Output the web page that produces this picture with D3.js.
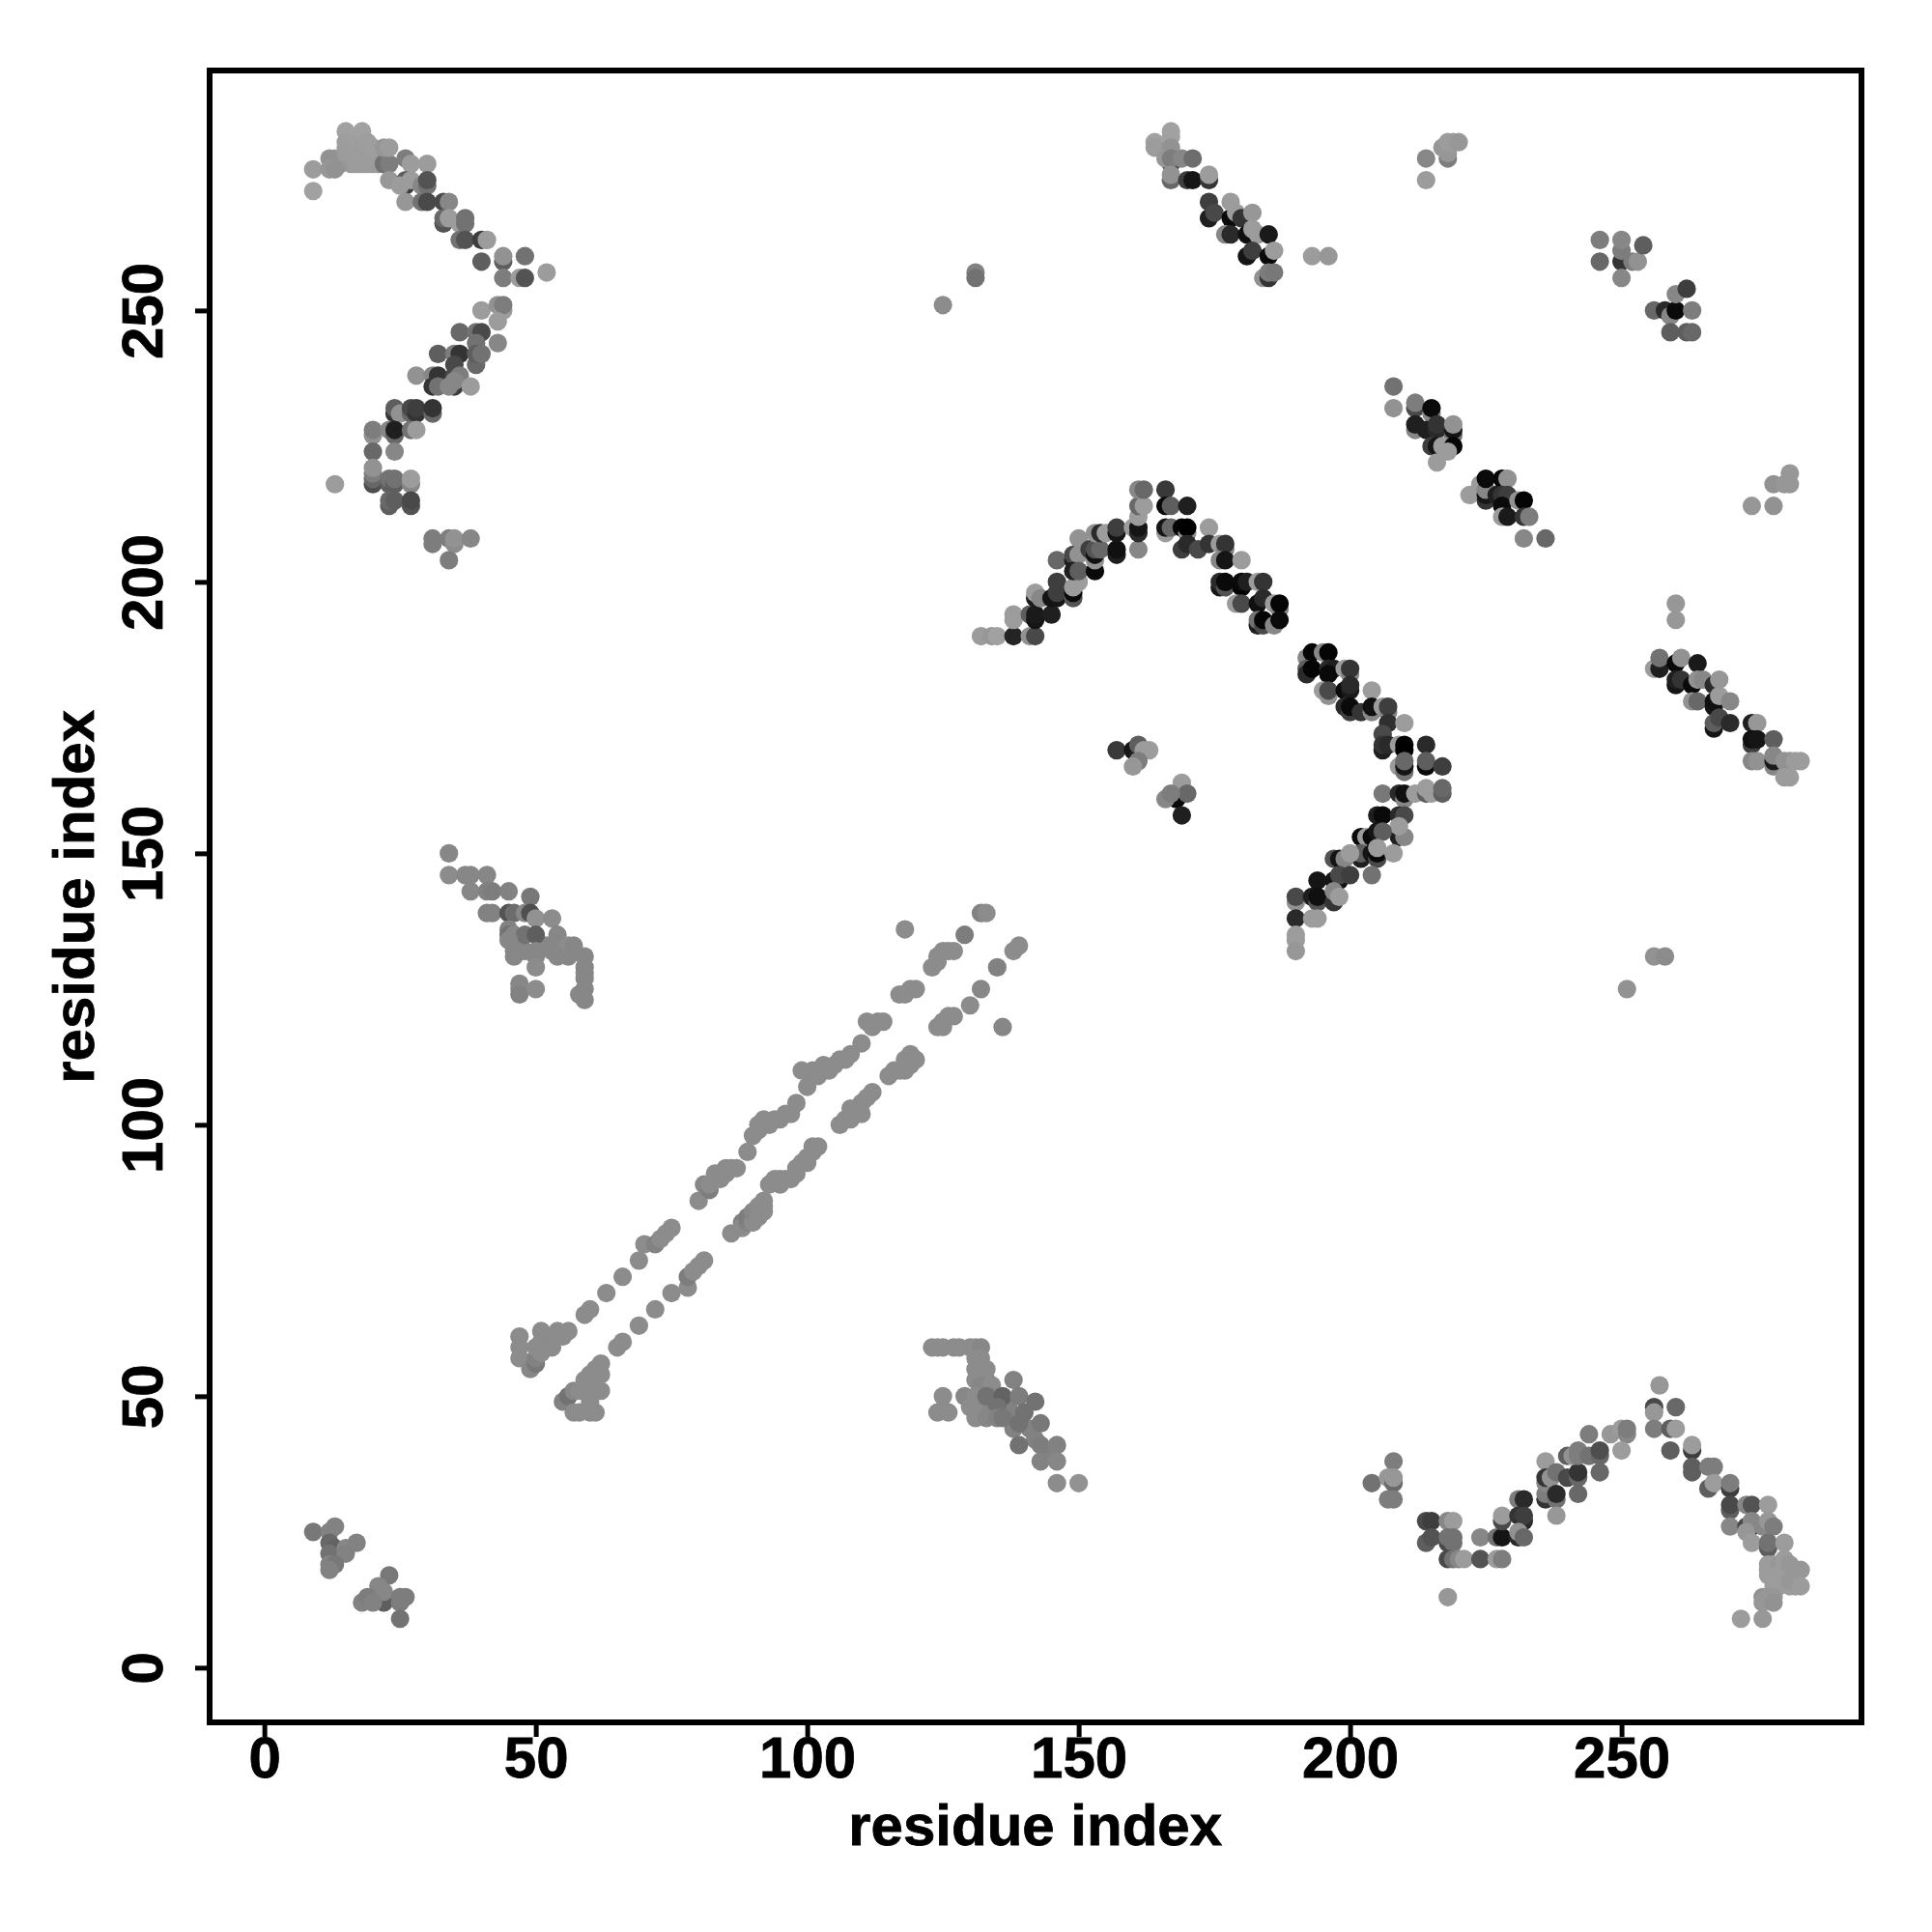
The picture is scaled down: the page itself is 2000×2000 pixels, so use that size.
<!DOCTYPE html>
<html><head><meta charset="utf-8">
<script src="https://cdn.jsdelivr.net/npm/d3@7"></script>
<style>html,body{margin:0;background:#fff}svg{display:block}</style></head>
<body><svg id="c" width="2000" height="2000"></svg>
<script>
// each contact: [residue i, residue j, grey level]
const topLeftArc=[[9,276,150],[9,272,155],[12,278,140],[12,276,145],[13,276,140],[15,283,155],[15,281,152],[15,279,150],[18,283,155],[17,277,150],[18,277,150],[19,277,150],[19,281,152],[20,280,152],[22,277,110],[23,277,120],[22,280,145],[23,280,150],[26,278,120],[27,277,150],[30,277,150],[23,274,145],[26,274,90],[26,273,60],[25,273,150],[27,274,150],[29,273,130],[30,273,110],[30,274,80],[26,270,145],[29,270,110],[30,270,70],[33,270,70],[34,270,130],[33,266,80],[33,267,100],[34,267,150],[36,266,150],[37,266,110],[37,267,110],[36,263,110],[37,263,80],[40,263,60],[41,263,150],[40,259,90],[44,259,90],[44,260,140],[48,260,110],[44,256,120],[47,256,150],[48,256,80],[52,257,150]];
const topLeftLower=[[40,250,150],[43,251,140],[44,250,150],[44,251,120],[43,248,150],[36,246,100],[39,246,110],[40,246,70],[39,244,110],[43,244,130],[32,242,90],[35,242,120],[36,242,50],[39,240,100],[39,242,90],[40,242,110],[35,240,70],[28,238,140],[31,238,130],[32,238,50],[35,238,70],[36,238,120],[31,236,50],[32,236,110],[35,236,60],[34,236,130],[35,237,130],[38,236,150],[24,231,50],[24,232,90],[25,231,140],[27,231,100],[27,232,70],[28,231,50],[28,232,60],[31,231,100],[31,232,50],[20,227,140],[20,228,120],[23,228,130],[24,227,100],[24,228,30],[27,228,110],[28,228,150],[20,224,100],[24,224,130],[20,218,75],[20,219,100],[20,220,120],[20,221,140],[23,218,90],[23,219,110],[24,218,90],[24,219,110],[27,218,130],[27,219,150],[13,218,150],[23,214,90],[23,215,100],[24,215,90],[27,214,80],[27,215,70],[31,207,120],[31,208,120],[34,208,120],[35,207,135],[35,208,140],[38,208,130],[34,204,120]];
const midLeft=[[34,150,130],[34,146,135],[37,146,130],[38,146,130],[41,146,130],[38,143,130],[41,143,125],[42,143,120],[45,143,125],[49,142,115],[41,139,125],[42,139,125],[47,133,130],[48,132,130],[52,133,130],[55,132,130],[56,131,130],[45,139,80],[46,139,105],[48,139,130],[49,139,75],[50,138,140],[53,138,135],[45,136,125],[45,135,110],[46,135,130],[48,135,110],[50,135,90],[54,135,130],[45,134,130],[46,132,130],[50,132,130],[53,132,130],[54,133,130],[56,133,135],[57,133,130],[46,131,130],[50,131,130],[54,131,130],[57,132,130],[59,131,130],[50,129,135],[47,126,130],[47,125,130],[47,124,125],[50,125,135],[59,129,130],[59,128,130],[59,127,130],[59,125,130],[58,124,130],[59,123,130]];
const strandUpper=[[47,61,135],[47,59,135],[47,57,135],[49,55,130],[50,56,115],[50,57,125],[50,59,135],[51,58,135],[51,60,135],[51,62,135],[53,59,135],[54,61,135],[54,62,135],[55,61,135],[56,62,135],[59,65,135],[60,66,135],[63,69,135],[66,72,135],[69,75,135],[70,78,135],[72,78,125],[73,79,135],[74,80,135],[75,81,135],[80,86,135],[81,89,130],[82,88,120],[82,89,135],[83,91,135],[84,90,135],[84,91,135],[85,91,135],[85,92,135],[86,92,135],[87,92,135],[89,95,135],[90,98,135],[91,99,135],[91,100,135],[92,100,135],[92,101,135],[93,100,135],[94,101,135],[95,101,135],[96,102,135],[97,102,135],[98,104,135],[100,107,135],[101,109,135],[99,110,135],[101,110,135],[102,109,135],[102,110,135],[103,111,135],[104,110,135],[105,111,135],[106,112,135],[107,112,135],[108,113,135],[110,115,135],[111,119,135],[112,118,135],[113,119,135],[114,119,135],[117,124,135],[118,124,135],[119,125,135],[120,125,135],[123,129,135],[124,130,135],[124,131,135],[125,132,135],[126,132,135],[127,132,135],[118,136,135],[129,135,120],[132,139,125],[133,139,135]];
const strandLower=[[55,49,125],[56,50,110],[57,51,130],[58,51,135],[59,51,135],[59,53,135],[60,54,135],[61,55,135],[62,56,135],[62,54,135],[62,51,135],[61,51,135],[60,49,135],[57,47,135],[58,47,135],[60,47,135],[61,47,135],[65,59,135],[66,60,135],[69,63,135],[72,66,135],[75,69,135],[78,70,135],[78,72,120],[79,73,135],[80,74,135],[81,75,135],[86,80,135],[88,82,125],[88,81,135],[89,82,125],[89,83,120],[90,82,135],[90,84,130],[91,83,135],[91,85,135],[92,84,135],[92,85,135],[92,86,135],[93,89,135],[94,90,135],[95,89,135],[95,90,135],[96,90,135],[97,90,135],[98,91,135],[98,92,135],[99,93,135],[100,93,135],[100,94,135],[101,95,135],[101,96,135],[102,96,135],[106,100,135],[107,101,135],[108,101,135],[108,103,135],[109,102,135],[110,102,135],[110,104,135],[111,105,135],[112,106,135],[115,109,135],[116,110,135],[117,110,135],[118,110,135],[118,112,135],[119,111,135],[119,113,135],[120,112,135],[124,118,135],[125,118,135],[125,119,135],[126,120,135],[127,120,135],[130,122,135],[132,125,130],[135,129,125],[136,118,130],[138,132,135],[139,133,135]];
const bottomMid=[[123,59,135],[124,59,135],[125,59,135],[127,59,135],[128,59,135],[130,59,135],[131,59,135],[132,59,130],[131,57,135],[132,57,135],[131,55,135],[132,55,135],[133,55,135],[132,54,135],[131,53,135],[133,53,135],[132,52,130],[134,52,135],[138,53,125],[125,50,135],[129,50,130],[131,50,135],[134,50,130],[130,48,135],[132,48,135],[134,48,130],[137,48,125],[137,46,125],[138,44,125],[141,44,125],[142,42,125],[145,40,125],[133,50,110],[136,50,95],[139,50,120],[142,49,110],[135,48,110],[140,47,110],[124,47,135],[126,47,135],[131,46,135],[133,46,130],[135,46,125],[136,46,115],[139,45,110],[143,45,115],[139,41,110],[143,41,120],[146,41,125],[143,38,125],[146,38,130],[146,34,135],[150,34,140]];
const topMid=[[164,281,155],[164,280,150],[167,283,155],[167,282,155],[167,280,140],[167,277,60],[166,278,145],[167,278,120],[169,278,130],[171,278,105],[167,274,100],[167,275,140],[170,274,60],[171,274,20],[174,274,50],[174,275,150],[174,270,60],[174,267,30],[175,268,70],[178,267,10],[178,270,150],[179,268,150],[180,267,50],[182,268,145],[177,264,130],[178,264,40],[181,264,15],[182,265,150],[183,264,150],[185,264,25],[181,260,20],[182,261,60],[185,260,10],[186,261,150],[184,256,140],[185,256,50],[185,257,120],[186,257,115],[193,260,150],[196,260,145],[125,251,135],[131,257,125],[131,256,110]];
const topRight=[[214,278,130],[214,274,150],[218,278,120],[218,279,145],[217,280,145],[218,281,150],[219,281,150],[220,281,145],[246,263,120],[246,259,100],[250,259,50],[250,261,120],[250,263,130],[250,256,130],[252,259,120],[253,259,140],[254,262,90],[256,250,100],[258,250,40],[259,249,130],[259,246,90],[260,250,10],[260,253,130],[262,254,60],[262,246,90],[263,250,120],[263,246,100]];
const rightUpper=[[208,236,110],[208,232,140],[212,232,70],[212,233,120],[215,231,130],[215,232,10],[212,228,130],[212,229,30],[214,228,30],[216,228,40],[216,229,50],[219,227,110],[219,228,20],[219,229,140],[215,225,60],[216,225,20],[217,225,150],[219,225,5],[218,224,150],[216,222,150],[222,216,150],[224,218,150],[225,215,50],[225,216,20],[225,217,130],[225,219,10],[228,219,5],[229,219,140],[227,216,30],[228,216,50],[229,216,60],[228,214,10],[231,215,140],[232,215,5],[228,212,150],[229,212,25],[232,212,50],[233,212,120],[232,208,130],[236,208,100]];
const centreArc=[[132,190,150],[134,190,145],[135,190,155],[138,190,35],[138,193,150],[138,194,150],[141,190,140],[142,190,70],[141,194,90],[142,193,20],[142,194,25],[145,194,30],[142,197,25],[142,198,150],[143,197,130],[145,197,20],[146,197,20],[146,198,60],[146,200,60],[149,197,80],[149,198,10],[149,199,150],[150,200,150],[146,204,100],[149,204,30],[149,205,70],[150,205,140],[149,202,30],[150,202,90],[153,202,10],[153,204,140],[150,208,140],[152,206,60],[153,205,15],[153,206,80],[154,206,100],[153,209,140],[154,209,40],[155,209,150],[157,205,30],[157,206,15],[157,209,20],[157,210,60],[160,210,150],[161,206,130],[161,209,40],[161,210,20],[161,212,150],[161,214,100],[162,214,150],[161,217,130],[162,217,100],[166,217,55],[166,214,10],[167,214,90],[170,214,30],[166,209,150],[166,210,20],[167,210,100],[169,210,5],[170,209,140],[170,210,0],[174,210,150],[169,206,60],[170,207,40],[172,206,70],[174,207,50],[176,207,150],[177,206,130],[177,207,50],[176,204,130],[177,204,20],[180,204,150],[176,199,20],[176,200,40],[177,199,80],[177,200,10],[180,199,0],[180,200,10],[181,200,30],[183,200,150],[184,200,50],[179,196,150],[180,196,70],[183,196,15],[184,197,40],[186,196,150],[187,195,130],[187,196,5],[183,192,30],[183,193,110],[184,192,70],[184,193,5],[186,192,130],[187,193,10]];
const innerSmall=[[157,169,55],[160,169,20],[161,168,30],[161,170,90],[162,169,150],[163,169,150],[161,167,120],[160,166,145],[169,163,150],[168,160,10],[169,157,30],[170,161,100],[166,160,130],[167,161,120]];
const rightArcTop=[[192,186,130],[193,187,5],[195,187,130],[196,187,5],[192,184,90],[192,183,40],[193,184,5],[196,184,40],[197,184,30],[196,183,10],[199,184,150],[200,183,130],[200,184,50],[195,180,150],[196,179,140],[196,180,70],[199,180,10],[200,180,25],[200,181,40],[204,180,150],[199,177,40],[200,176,60],[200,177,10],[202,176,50],[204,176,130],[204,177,15],[206,177,150],[207,176,130],[207,177,60],[207,174,45],[210,174,150],[206,172,70],[206,169,30],[206,170,50],[207,170,40],[209,170,150],[210,170,5],[210,169,0],[214,170,40],[209,166,150],[210,165,110],[210,166,20],[210,167,100],[214,166,10],[214,167,90],[217,166,60]];
const rightArcLow=[[206,161,115],[209,161,40],[210,160,130],[210,161,15],[212,161,150],[214,161,90],[214,162,150],[215,161,150],[217,161,90],[217,162,100],[205,157,30],[206,157,10],[209,157,40],[210,157,70],[209,153,30],[210,153,130],[209,155,150],[202,153,10],[203,153,150],[204,153,10],[205,154,20],[206,154,90],[202,149,30],[202,150,90],[204,150,20],[205,149,70],[205,150,10],[205,151,150],[208,150,150],[197,149,80],[198,149,20],[199,149,130],[200,150,150],[204,146,110],[194,145,20],[197,145,20],[198,145,20],[198,146,70],[200,146,60],[190,141,140],[190,142,70],[193,142,30],[194,141,80],[194,142,15],[197,141,50],[197,143,130],[198,142,150],[190,138,40],[193,138,150],[194,138,150],[190,135,150],[190,134,150],[190,132,145]];
const rightLower=[[256,184,150],[257,184,30],[257,186,110],[260,185,10],[261,186,140],[260,181,20],[260,182,30],[261,182,50],[264,185,25],[263,181,10],[264,182,140],[265,182,130],[263,178,140],[264,178,100],[267,177,20],[267,178,15],[267,181,40],[268,179,150],[268,182,145],[270,178,130],[267,173,20],[267,174,90],[268,175,70],[270,174,40],[274,174,30],[275,174,145],[274,170,60],[274,171,15],[275,171,20],[278,171,90],[274,167,130],[275,167,140],[278,166,130],[278,167,25],[278,168,130],[280,167,140],[281,167,140],[282,167,150],[283,167,150],[280,164,150],[281,164,150],[260,193,145],[260,196,145],[274,214,145],[278,214,140],[278,218,140],[280,218,145],[281,218,145],[281,220,145],[256,131,140],[258,131,135],[251,125,140]];
const bottomRight=[[204,34,110],[208,38,120],[207,35,145],[208,34,100],[208,35,145],[207,31,120],[208,31,120],[214,27,70],[215,27,60],[214,23,90],[215,24,80],[218,27,130],[219,27,150],[218,23,70],[218,24,110],[219,23,110],[219,24,110],[218,20,70],[219,20,110],[220,20,130],[221,20,150],[224,24,130],[224,20,80],[227,24,110],[228,24,20],[227,20,150],[228,20,120],[228,27,70],[228,28,150],[231,31,120],[232,31,40],[231,28,50],[232,27,40],[232,28,60],[231,24,40],[231,25,140],[232,24,100],[218,13,145],[236,38,150],[236,31,50],[236,32,120],[236,34,130],[236,35,50],[237,35,140],[238,36,110],[238,31,110],[238,32,40],[238,28,145],[240,35,70],[242,35,100],[242,36,50],[242,32,100],[240,39,90],[241,39,140],[242,39,120],[242,40,120],[244,39,110],[246,39,100],[246,40,75],[246,36,100],[244,43,120],[248,43,145],[250,44,150],[251,43,130],[251,44,120],[250,40,150],[256,48,70],[256,47,145],[256,44,120],[257,52,145],[259,44,90],[260,44,150],[260,48,100],[259,40,90],[263,40,60],[263,41,150],[263,36,90],[263,37,90],[266,37,120],[267,37,120],[266,33,90],[267,34,150],[270,33,60],[270,34,120],[270,29,90],[270,30,70],[270,26,130],[273,30,130],[274,30,80],[277,30,150],[273,26,70],[274,26,50],[274,27,130],[273,25,145],[274,23,150],[276,26,130],[277,27,145],[278,26,120],[277,22,90],[277,23,110],[280,23,150],[277,19,150],[277,18,150],[277,17,150],[278,19,150],[278,18,150],[278,16,150],[278,15,150],[279,19,145],[279,17,150],[280,20,150],[280,18,150],[280,16,150],[281,19,145],[282,15,150],[283,18,145],[279,15,150],[281,15,150],[281,16,145],[283,15,150],[276,13,140],[276,12,145],[277,13,145],[278,13,145],[278,12,140],[272,9,150],[276,9,145]];
const bottomLeft=[[9,25,115],[12,25,125],[13,26,125],[12,23,100],[13,22,95],[12,21,110],[15,22,130],[15,21,125],[17,23,125],[12,19,125],[13,19,115],[12,18,125],[23,17,115],[21,15,130],[22,12,90],[22,14,130],[18,12,125],[19,13,120],[20,12,125],[25,13,120],[26,13,120],[25,12,120],[25,9,110]];
const topLeftFill=[[16,279,150],[15,280,150],[16,281,150],[17,279,150],[18,279,150],[18,281,150],[19,279,150],[17,280,150],[16,277,150],[20,278,150],[21,279,150],[21,277,145],[22,278,140],[13,278,145],[14,277,145],[20,277,150]];
const clusters=[topLeftFill,topLeftArc,topLeftLower,midLeft,strandUpper,strandLower,bottomMid,topMid,topRight,rightUpper,centreArc,innerSmall,rightArcTop,rightArcLow,rightLower,bottomRight,bottomLeft];
const tickValues=[0,50,100,150,200,250];
const axisTitle="residue index";

const svg=d3.select("#c");
const font='"Liberation Sans",Arial,sans-serif';
const x=d3.scaleLinear().domain([-10.08,294.2]).range([217,1927]);
const y=d3.scaleLinear().domain([-10.08,294.2]).range([1783,73]);
const grey=d3.scaleLinear().domain([0,150]).range([0,156]);

svg.append("g").selectAll("circle").data(clusters.flat()).join("circle")
  .attr("cx",d=>x(d[0])).attr("cy",d=>y(d[1])).attr("r",9.6)
  .attr("fill",d=>{const g=Math.round(grey(d[2]));return d3.rgb(g,g,g).formatHex();});

const gx=svg.append("g").attr("transform","translate(0,1783)")
  .call(d3.axisBottom(x).tickValues(tickValues).tickSize(15).tickPadding(14).tickFormat(d3.format("d")));
const gy=svg.append("g").attr("transform","translate(217,0)")
  .call(d3.axisLeft(y).tickValues(tickValues).tickSize(15).tickPadding(14).tickFormat(d3.format("d")));
[gx,gy].forEach(g=>{
  g.select(".domain").remove();
  g.selectAll(".tick line").attr("stroke","#000").attr("stroke-width",5);
  g.selectAll("text").attr("font-family",font).attr("font-weight","bold").attr("font-size",60).attr("fill","#000")
    .attr("stroke","#000").attr("stroke-width",0.8);
});
gx.selectAll("text").attr("dy",null).attr("y",null).attr("dominant-baseline",null)
  .attr("transform","translate(0,57)");
gy.selectAll("text").attr("x",null).attr("dy",null).attr("text-anchor","middle")
  .attr("transform","translate(-49,0) rotate(-90)");

svg.append("rect").attr("x",217).attr("y",73).attr("width",1710).attr("height",1710)
  .attr("fill","none").attr("stroke","#000").attr("stroke-width",6);

svg.append("text").attr("x",x(142)).attr("y",1910).attr("text-anchor","middle")
  .attr("font-family",font).attr("font-weight","bold").attr("font-size",60).attr("stroke","#000").attr("stroke-width",0.8).text(axisTitle);
svg.append("text").attr("transform",`translate(97,${y(142)}) rotate(-90)`).attr("text-anchor","middle")
  .attr("font-family",font).attr("font-weight","bold").attr("font-size",60).attr("stroke","#000").attr("stroke-width",0.8).text(axisTitle);
</script></body></html>
